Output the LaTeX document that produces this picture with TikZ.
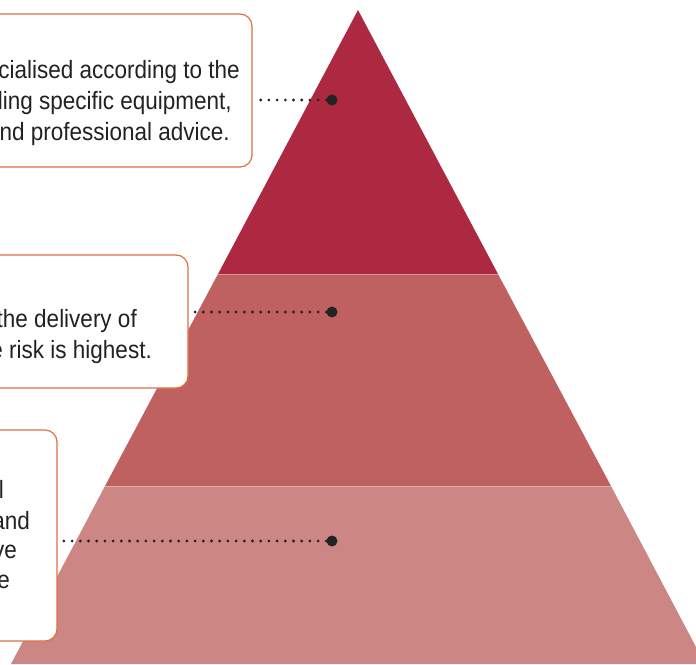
\documentclass[tikz,border=0pt]{standalone}
\usepackage{fontspec}
\setmainfont{Liberation Sans}[FakeStretch=0.9]
\usetikzlibrary{positioning}

\definecolor{toplayer}{HTML}{AD2942}
\definecolor{midlayer}{HTML}{BE6160}
\definecolor{lowlayer}{HTML}{CC8683}
\definecolor{boxline}{HTML}{E07040}
\definecolor{ink}{HTML}{222222}

\tikzset{
  notebox/.style={draw=boxline, line width=1.2pt, fill=white, rounded corners=12pt,
    inner sep=0pt},
  noteline/.style={anchor=base east, inner sep=0pt, text=ink,
    font=\fontsize{25}{29}\selectfont},
  dotline/.style={ink, line width=3.1pt, line cap=round, dash pattern=on 0pt off 8.2pt},
  spot/.style={circle, fill=ink, inner sep=0pt, minimum size=11pt}
}

\begin{document}
\begin{tikzpicture}[x=1pt,y=-1pt]
    \useasboundingbox (0,0) rectangle (696,664);
    \clip (0,0) rectangle (696,664);

    % pyramid layers
    \fill[toplayer] (358,10) -- (498,274) -- (218,274) -- cycle;
    \fill[midlayer] (218,274) -- (498,274) -- (611,486) -- (105,486) -- cycle;
    \fill[lowlayer] (105,486) -- (611,486) -- (705,664) -- (11,664) -- cycle;
    \draw[white, opacity=0.35, line width=0.6pt] (218,274) -- (498,274);
    \draw[white, opacity=0.35, line width=0.6pt] (105,486) -- (611,486);

    % notes
    \node[notebox, minimum width=312pt, minimum height=153pt] (topbox) at (96,90.5) {};
    \node[noteline] (top1) at (240,78) {cialised according to the};
    \node[noteline] (top2) at (232,109) {ling specific equipment,};
    \node[noteline] (top3) at (230,140) {nd professional advice.};

    \node[notebox, minimum width=248pt, minimum height=133pt] (midbox) at (64,321.5) {};
    \node[noteline] (mid1) at (137,327) {the delivery of};
    \node[noteline] (mid2) at (152,358) {e risk is highest.};

    \node[notebox, minimum width=117pt, minimum height=211pt] (lowbox) at (-1.5,535.5) {};
    \node[noteline] (low1) at (4,498) {l};
    \node[noteline] (low2) at (30,529) {and};
    \node[noteline] (low3) at (17,558) {ve};
    \node[noteline] (low4) at (10,588) {e};

    % markers
    \node[spot] (topdot) at (332,100) {};
    \node[spot] (middot) at (332,312) {};
    \node[spot] (lowdot) at (332,541) {};

    \draw[dotline] (topdot) -- (topbox.east |- topdot);
    \draw[dotline] (middot) -- (midbox.east |- middot);
    \draw[dotline] (lowdot) -- (lowbox.east |- lowdot);
\end{tikzpicture}
\end{document}
